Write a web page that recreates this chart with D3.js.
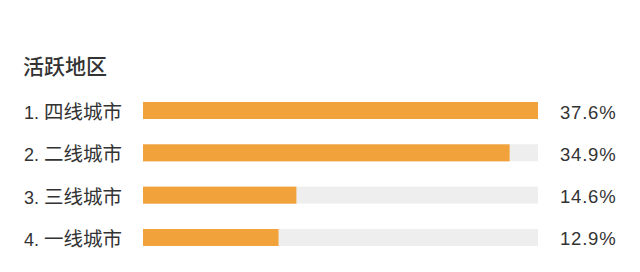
<!DOCTYPE html>
<html>
<head>
<meta charset="utf-8">
<script src="https://cdn.jsdelivr.net/npm/d3@7"></script>
<style>
  body { margin: 0; background: #fff; }
  svg { display: block; font-family: "Liberation Sans", "Noto Sans CJK SC", sans-serif; }
</style>
</head>
<body>
<div id="chart"></div>
<script>
const title = '活跃地区';
const cities = ['四线城市', '二线城市', '三线城市', '一线城市'];
const shares = [37.6, 34.9, 14.6, 12.9];

const width = 640;
const height = 272;
const barH = 17;

const svg = d3.select('#chart')
  .append('svg')
  .attr('width', width)
  .attr('height', height);

// title
svg.append('text')
  .attr('x', 23)
  .attr('y', 74)
  .attr('fill', '#333')
  .style('font-size', '21px')
  .style('font-weight', 500)
  .text(title);

const xScale = d3.scaleLinear()
  .domain([0, d3.max(shares)])
  .range([143, 538]);

const yScale = d3.scaleBand()
  .domain(cities)
  .range([102, 246])
  .paddingInner(0.598)
  .paddingOuter(0);

const rows = svg.append('g')
  .selectAll('g')
  .data(cities.map((c, i) => ({ city: c, value: shares[i], rank: i + 1 })))
  .join('g');

// track
rows.append('rect')
  .attr('x', xScale(0))
  .attr('y', d => yScale(d.city))
  .attr('width', xScale.range()[1] - xScale.range()[0])
  .attr('height', barH)
  .attr('fill', '#eeeeee');

// bar
rows.append('rect')
  .attr('x', xScale(0))
  .attr('y', d => yScale(d.city))
  .attr('width', d => xScale(d.value) - xScale(0))
  .attr('height', barH)
  .attr('fill', '#f1a23b');

// label
const label = rows.append('text')
  .attr('x', 24)
  .attr('y', d => yScale(d.city) + 17)
  .attr('fill', '#333');
label.append('tspan')
  .style('font-size', '18px')
  .text(d => `${d.rank}. `);
label.append('tspan')
  .style('font-size', '19.5px')
  .text(d => d.city);

// value
rows.append('text')
  .attr('x', 560)
  .attr('y', d => yScale(d.city) + 16.5)
  .attr('fill', '#333')
  .style('font-size', '18.5px')
  .style('letter-spacing', '0.8px')
  .text(d => d.value.toFixed(1) + '%');
</script>
</body>
</html>
